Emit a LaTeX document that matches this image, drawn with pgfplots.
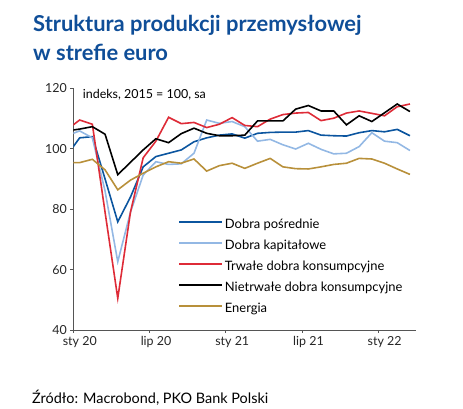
\documentclass[border=0pt]{standalone}
\usepackage{fontspec}
\setmainfont{Lato}
\usepackage{pgfplots}
\pgfplotsset{compat=1.18}
\usepackage{pgfplotstable}

\definecolor{cTitle}{HTML}{0F4E98}
\definecolor{cBlue}{HTML}{0B559F}
\definecolor{cLBlue}{HTML}{93B8E4}
\definecolor{cRed}{HTML}{DE2B37}
\definecolor{cBlack}{HTML}{000000}
\definecolor{cGold}{HTML}{B8903A}
\definecolor{cAxis}{HTML}{555555}

\pgfplotstableread{
x     blue  lblue red   black energy
-0.5  97.8  104.3 106.3 105.9 95.4
0.5   103.6 105.9 109.5 106.5 95.4
1.5   104.0 103.6 108.1 107.3 96.5
2.5   90.0  86.0  79.0  104.8 93.0
3.5   75.8  62.6  50.5  91.4  86.4
4.5   84.0  79.0  79.0  95.5  89.6
5.5   94.0  91.3  97.0  99.6  91.9
6.5   97.4  95.7  102.5 103.3 94.0
7.5   98.5  94.8  110.4 102.0 95.7
8.5   99.6  95.0  108.3 105.0 95.2
9.5   102.3 98.5  108.7 106.8 96.6
10.5  103.6 109.5 107.0 105.1 92.6
11.5  104.5 108.4 108.1 104.3 94.4
12.5  104.9 109.0 110.3 104.3 95.2
13.5  103.5 107.3 107.7 104.5 93.5
14.5  105.1 102.5 107.3 109.2 95.2
15.5  105.4 103.1 109.8 109.2 96.8
16.5  105.5 101.3 111.3 109.2 94.0
17.5  105.5 99.9  111.8 113.1 93.4
18.5  106.0 101.8 112.0 114.3 93.3
19.5  104.5 99.8  109.3 112.5 94.0
20.5  104.3 98.3  110.1 112.5 94.8
21.5  104.2 98.5  111.8 107.9 95.2
22.5  105.3 100.7 112.5 110.9 96.8
23.5  106.0 105.3 111.7 109.0 96.6
24.5  105.6 102.5 110.9 111.9 95.2
25.5  106.4 102.0 113.9 114.8 93.3
26.5  104.3 99.4  114.8 112.3 91.5
}\data

\begin{document}
\begin{tikzpicture}
\useasboundingbox (0bp,0bp) rectangle (463bp,409bp);
\node[anchor=base west, inner sep=0, text=cTitle, font=\bfseries\fontsize{22}{26}\selectfont] at (33bp,377bp) {Struktura produkcji przemysłowej};
\node[anchor=base west, inner sep=0, text=cTitle, font=\bfseries\fontsize{22}{26}\selectfont] at (33bp,348bp) {w strefie euro};
\node[anchor=base west, inner sep=0, font=\fontsize{14.5}{17}\selectfont] at (32bp,6bp) {Źródło: Macrobond, PKO Bank Polski};
\begin{axis}[
  at={(73.3bp,79bp)}, anchor=south west,
  scale only axis, width=343bp, height=241.7bp,
  xmin=0, xmax=27, ymin=40, ymax=120,
  axis lines=left, axis line style={-, cAxis, line width=0.8pt},
  tick align=outside, major tick length=3bp,
  tick style={cAxis, line width=0.8pt},
  xtick={0,6,12,18,24},
  xticklabels={sty 20, lip 20, sty 21, lip 21, sty 22},
  ytick={40,60,80,100,120},
  minor tick num=0,
  /pgf/number format/assume math mode=true,
  ticklabel style={font=\fontsize{12.5}{15}\selectfont, text=black!85},
  xticklabel style={xshift=6.5bp},
  legend cell align=left,
  legend style={at={(rel axis cs:0.305,0.467)}, anchor=north west, draw=none, fill=none,
    font=\fontsize{13}{15.5}\selectfont, row sep=4bp, inner sep=0pt,
    nodes={inner sep=2bp, text height=9.5bp, text depth=3.5bp}},
  legend image code/.code={\draw[#1, line width=1.8pt] (0bp,3.5bp) -- (43bp,3.5bp);},
  every axis plot/.append style={line width=1.6pt, line join=miter},
]
\addplot[cBlue] table[x=x,y=blue]{\data};
\addlegendentry{Dobra pośrednie}
\addplot[cLBlue] table[x=x,y=lblue]{\data};
\addlegendentry{Dobra kapitałowe}
\addplot[cRed] table[x=x,y=red]{\data};
\addlegendentry{Trwałe dobra konsumpcyjne}
\addplot[cBlack] table[x=x,y=black]{\data};
\addlegendentry{Nietrwałe dobra konsumpcyjne}
\addplot[cGold] table[x=x,y=energy]{\data};
\addlegendentry{Energia}
\node[anchor=west, inner sep=0, font=\fontsize{12.5}{15}\selectfont] at (axis cs:0.74,117.8) {indeks, 2015 = 100, sa};
\end{axis}
\end{tikzpicture}
\end{document}
